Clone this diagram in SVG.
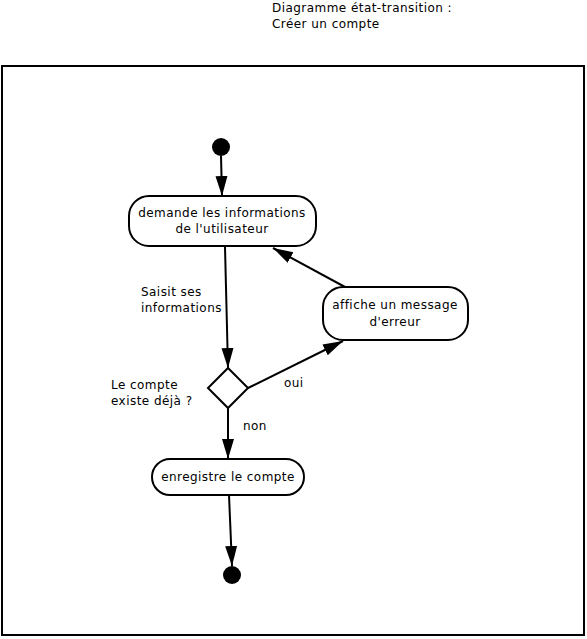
<svg xmlns="http://www.w3.org/2000/svg" width="587" height="639" viewBox="0 0 587 639">
  <style>
    text { font-family: "DejaVu Sans", sans-serif; font-size: 12px; letter-spacing: 0.45px; fill: #000; }
    .state { fill: #fff; stroke: #000; stroke-width: 2; }
    .edge { fill: none; stroke: #000; stroke-width: 2; }
    .mid { text-anchor: middle; }
  </style>
  <defs>
    <marker id="arrow" markerUnits="userSpaceOnUse" markerWidth="22" markerHeight="14" refX="20" refY="7" orient="auto">
      <path d="M0,1 L20,7 L0,13 Z" fill="#000"/>
    </marker>
  </defs>
  <rect width="587" height="639" fill="#fff"/>

  <!-- title -->
  <text x="272" y="12">Diagramme état-transition :</text>
  <text x="272" y="28">Créer un compte</text>

  <!-- frame -->
  <rect x="2" y="66" width="582" height="569" fill="none" stroke="#000" stroke-width="2"/>

  <!-- connectors -->
  <g id="connectors">
    <line class="edge" x1="221" y1="156" x2="222" y2="196" marker-end="url(#arrow)"/>
    <line class="edge" x1="225" y1="247" x2="228" y2="368" marker-end="url(#arrow)"/>
    <line class="edge" x1="248" y1="388" x2="343" y2="341" marker-end="url(#arrow)"/>
    <line class="edge" x1="345" y1="287" x2="273" y2="248" marker-end="url(#arrow)"/>
    <line class="edge" x1="228" y1="408" x2="228" y2="459" marker-end="url(#arrow)"/>
    <line class="edge" x1="229" y1="495" x2="232" y2="566" marker-end="url(#arrow)"/>
    <text x="141" y="296">Saisit ses</text>
    <text x="141" y="312">informations</text>
    <text x="284" y="387">oui</text>
    <text x="243" y="430">non</text>
  </g>

  <g id="start">
    <circle cx="221" cy="147" r="9" fill="#000"/>
  </g>

  <g id="demande">
    <rect class="state" x="129" y="196" width="187" height="50" rx="20" ry="20"/>
    <text class="mid" x="222" y="217">demande les informations</text>
    <text class="mid" x="222" y="233">de l'utilisateur</text>
  </g>

  <g id="erreur">
    <rect class="state" x="323" y="287" width="145" height="53" rx="20" ry="20"/>
    <text class="mid" x="395" y="309">affiche un message</text>
    <text class="mid" x="395" y="326">d'erreur</text>
  </g>

  <g id="decision">
    <polygon class="state" points="228,368 248,388 228,408 208,388"/>
    <text x="111" y="389">Le compte</text>
    <text x="111" y="405">existe déjà ?</text>
  </g>

  <g id="enregistre">
    <rect class="state" x="152" y="459" width="152" height="36" rx="18" ry="18"/>
    <text class="mid" x="228" y="481">enregistre le compte</text>
  </g>

  <g id="end">
    <circle cx="232" cy="575" r="9" fill="#000"/>
  </g>
</svg>
